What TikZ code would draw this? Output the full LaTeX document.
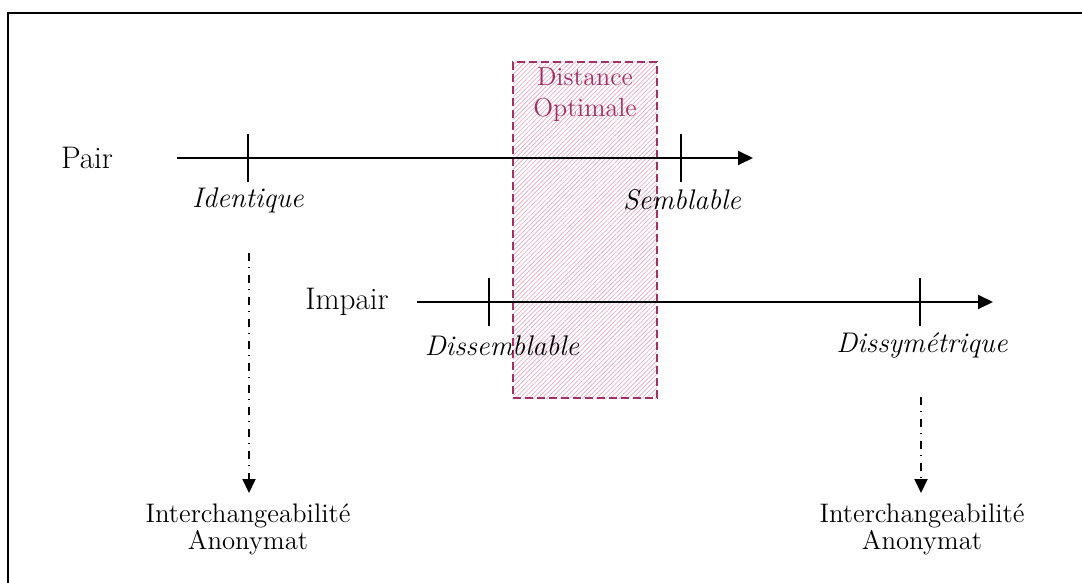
\documentclass[tikz,border=0pt]{standalone}
\usepackage{tikz}
\usetikzlibrary{arrows.meta,patterns.meta}

\definecolor{optim}{RGB}{160,48,102}
\definecolor{hachure}{RGB}{228,180,200}

\begin{document}
\begin{tikzpicture}[x=0.5pt, y=-0.5pt,
	axe/.style={line width=1pt, -{Triangle[length=7.5pt,width=7pt]}},
	tick/.style={line width=1pt},
	lien/.style={line width=1pt, dash pattern=on 4pt off 3pt on 0.6pt off 3.4pt, -{Triangle[length=7pt,width=6.5pt]}},
	nom/.style={font=\fontsize{15.6}{18}\selectfont},
	etiq/.style={font=\fontsize{14.2}{16}\selectfont\itshape},
	bas/.style={align=center, font=\fontsize{13.4}{13.5}\selectfont},
	zone/.style={draw=optim, line width=0.8pt, dash pattern=on 4pt off 2pt,
		pattern={Lines[angle=45,distance=1.6pt,line width=0.4pt]}, pattern color=hachure,
		minimum width=72pt, minimum height=168pt, inner sep=0pt}]
	\useasboundingbox (0,0) rectangle (1082,583);

	% cadre
	\coordinate (c0) at (8,600);
	\coordinate (c1) at (8,13);
	\coordinate (c2) at (1100,13);
	\draw [line width=1pt] (c0) -- (c1) -- (c2);

	% zone optimale
	\node[zone] (opt) at (585,230) {};
	\node[align=center, text=optim, font=\fontsize{13}{15.5}\selectfont] (dist) at (585,95) {Distance\\Optimale};

	% axe pair
	\node[nom] (pair) at (87,158) {Pair};
	\coordinate (p0) at (177,158);
	\coordinate (p1) at (753,158);
	\coordinate (ident) at (248,158);
	\coordinate (sembl) at (681,158);
	\draw [axe] (p0) -- (p1);
	\draw [tick] ([yshift=12pt]ident) -- ([yshift=-12pt]ident);
	\draw [tick] ([yshift=12pt]sembl) -- ([yshift=-12pt]sembl);
	\node[etiq] (lident) at (248,200) {Identique};
	\node[etiq] (lsembl) at (682,200) {Semblable};

	% axe impair
	\node[nom] (impair) at (347,302) {Impair};
	\coordinate (i0) at (417,302);
	\coordinate (i1) at (993,302);
	\coordinate (dissem) at (489,302);
	\coordinate (dissym) at (920,302);
	\draw [axe] (i0) -- (i1);
	\draw [tick] ([yshift=12pt]dissem) -- ([yshift=-12pt]dissem);
	\draw [tick] ([yshift=12pt]dissym) -- ([yshift=-12pt]dissym);
	\node[etiq] (ldissem) at (502,346) {Dissemblable};
	\node[etiq] (ldissym) at (922,346) {Dissymétrique};

	% consequences
	\node[bas] (anonG) at (248,529) {Interchangeabilité\\Anonymat};
	\node[bas] (anonD) at (922,529) {Interchangeabilité\\Anonymat};
	\coordinate (lg0) at (249,253);
	\coordinate (lg1) at (249,493);
	\coordinate (ld0) at (921,397);
	\coordinate (ld1) at (921,493);
	\draw [lien] (lg0) -- (lg1);
	\draw [lien] (ld0) -- (ld1);
\end{tikzpicture}
\end{document}
